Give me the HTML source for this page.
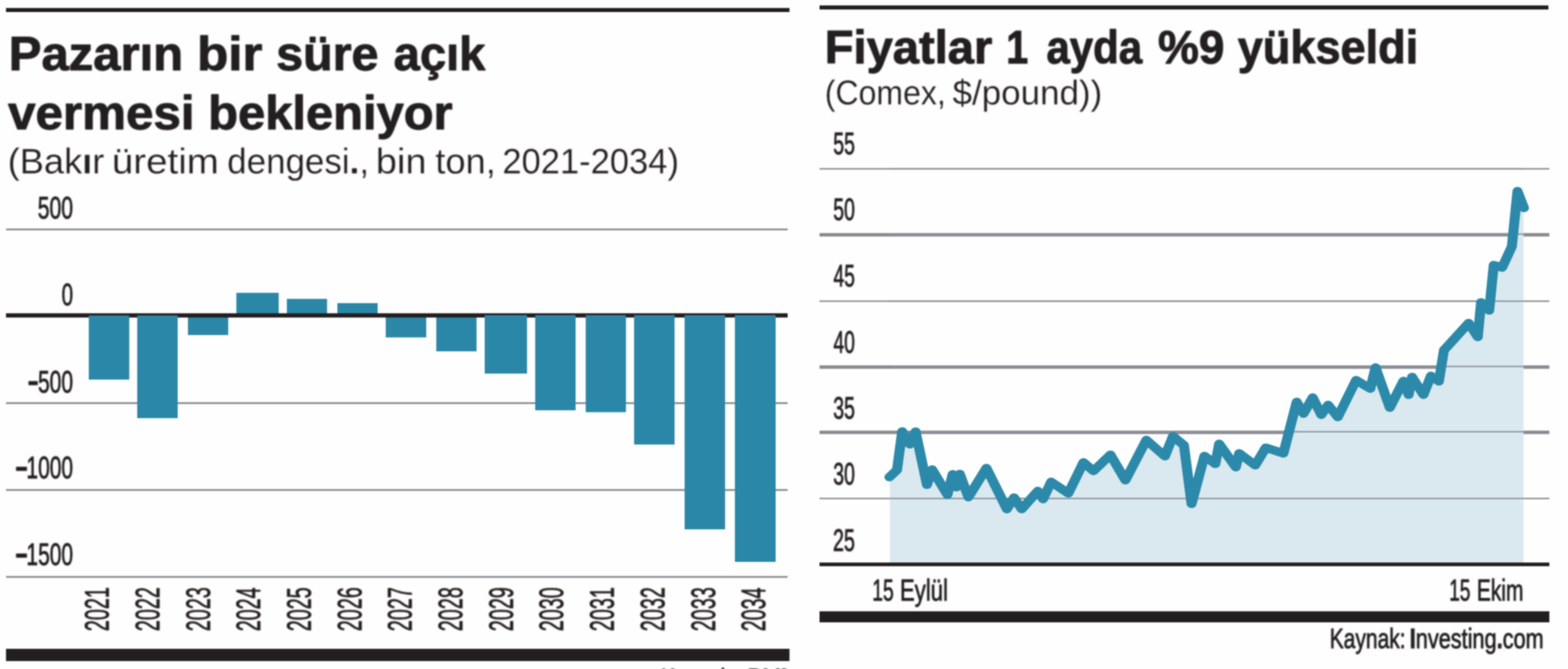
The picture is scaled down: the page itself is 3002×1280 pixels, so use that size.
<!DOCTYPE html>
<html lang="tr">
<head>
<meta charset="utf-8">
<title>Bakır grafikleri</title>
<style>
html,body{margin:0;padding:0;background:#fff;}
body{width:3002px;height:1280px;overflow:hidden;}
svg{display:block;}
text{font-family:"Liberation Sans",sans-serif;white-space:pre;}
</style>
</head>
<body>
<svg width="3002" height="1280" viewBox="0 0 3002 1280">
<defs>
<filter id="softs" x="0" y="0" width="3002" height="1280" filterUnits="userSpaceOnUse" color-interpolation-filters="sRGB"><feGaussianBlur stdDeviation="0.8"/></filter>
<filter id="softt" x="0" y="0" width="3002" height="1280" filterUnits="userSpaceOnUse" color-interpolation-filters="sRGB"><feGaussianBlur stdDeviation="1.4"/></filter>
</defs>
<rect x="0" y="0" width="3002" height="1280" fill="#fefefe"/>
<g filter="url(#softs)">
<rect x="11.50" y="15.30" width="1500.00" height="7.70" fill="#231f20"/>
<rect x="11.50" y="437.30" width="1496.50" height="3.40" fill="#8c8b91"/>
<rect x="11.50" y="769.60" width="1496.50" height="3.40" fill="#8c8b91"/>
<rect x="11.50" y="935.80" width="1496.50" height="3.40" fill="#8c8b91"/>
<rect x="11.50" y="1102.10" width="1496.50" height="3.40" fill="#8c8b91"/>
<rect x="170.00" y="604.00" width="77.50" height="122.30" fill="#2b87a8"/>
<rect x="262.70" y="604.00" width="77.50" height="196.00" fill="#2b87a8"/>
<rect x="359.80" y="604.00" width="77.10" height="37.00" fill="#2b87a8"/>
<rect x="452.50" y="560.30" width="81.10" height="43.70" fill="#2b87a8"/>
<rect x="549.20" y="571.80" width="77.00" height="32.20" fill="#2b87a8"/>
<rect x="645.90" y="580.00" width="77.10" height="24.00" fill="#2b87a8"/>
<rect x="738.50" y="604.00" width="77.50" height="41.60" fill="#2b87a8"/>
<rect x="835.30" y="604.00" width="77.10" height="68.20" fill="#2b87a8"/>
<rect x="928.00" y="604.00" width="81.00" height="110.80" fill="#2b87a8"/>
<rect x="1024.70" y="604.00" width="77.30" height="181.00" fill="#2b87a8"/>
<rect x="1121.40" y="604.00" width="77.00" height="184.60" fill="#2b87a8"/>
<rect x="1214.00" y="604.00" width="77.50" height="246.50" fill="#2b87a8"/>
<rect x="1310.70" y="604.00" width="77.50" height="408.80" fill="#2b87a8"/>
<rect x="1407.00" y="604.00" width="78.00" height="471.00" fill="#2b87a8"/>
<rect x="11.50" y="599.40" width="1496.50" height="8.10" fill="#231f20"/>
<rect x="170.00" y="603.60" width="77.50" height="5.40" fill="#2b87a8"/>
<rect x="262.70" y="603.60" width="77.50" height="5.40" fill="#2b87a8"/>
<rect x="928.00" y="603.00" width="81.00" height="6.00" fill="#2b87a8"/>
<rect x="1024.70" y="603.00" width="77.30" height="6.00" fill="#2b87a8"/>
<rect x="1121.40" y="603.00" width="77.00" height="6.00" fill="#2b87a8"/>
<rect x="1214.00" y="603.00" width="77.50" height="6.00" fill="#2b87a8"/>
<rect x="1310.70" y="603.00" width="77.50" height="6.00" fill="#2b87a8"/>
<rect x="1407.00" y="603.00" width="78.00" height="6.00" fill="#2b87a8"/>
<rect x="11.50" y="1241.40" width="1500.00" height="23.40" fill="#231f20"/>
<rect x="1569.00" y="10.40" width="1395.50" height="7.80" fill="#231f20"/>
<rect x="1569.00" y="321.60" width="1397.30" height="2.80" fill="#8c8b91"/>
<rect x="1569.00" y="445.90" width="1397.30" height="6.60" fill="#8c8b91"/>
<rect x="1569.00" y="574.80" width="1397.30" height="2.80" fill="#8c8b91"/>
<rect x="1569.00" y="699.00" width="1397.30" height="6.60" fill="#8c8b91"/>
<rect x="1569.00" y="823.90" width="1397.30" height="6.60" fill="#8c8b91"/>
<rect x="1569.00" y="952.40" width="1397.30" height="2.80" fill="#8c8b91"/>
<path d="M1703.8,1079.8 L1703.8,912.9 L1702.8,912.9 L1717.3,899.3 L1727.3,825.5 L1741.9,850.1 L1752.9,825.8 L1774.7,927.5 L1784.7,898.4 L1813.9,946.6 L1823.9,907.5 L1831.2,932.1 L1837.6,906.9 L1854.0,951.2 L1888.6,895.6 L1927.7,974.0 L1941.4,952.1 L1956.0,974.0 L1987.0,939.4 L1997.0,954.8 L2012.5,922.0 L2045.3,943.9 L2074.4,884.7 L2093.5,901.1 L2126.0,870.1 L2154.7,918.8 L2194.7,841.9 L2230.3,872.9 L2245.7,834.6 L2266.7,851.9 L2281.3,964.0 L2305.9,872.5 L2326.8,887.5 L2334.1,849.2 L2366.0,893.8 L2372.4,867.4 L2403.3,890.2 L2423.4,856.5 L2457.1,867.4 L2482.6,769.0 L2495.7,791.3 L2513.2,760.7 L2529.6,793.5 L2542.8,774.9 L2561.3,797.9 L2596.3,727.5 L2623.6,743.6 L2633.5,703.2 L2660.8,779.9 L2687.0,729.0 L2696.9,755.2 L2703.4,721.3 L2725.3,755.2 L2739.5,719.2 L2754.8,729.6 L2764.5,670.0 L2811.8,618.1 L2829.3,644.7 L2835.6,578.5 L2851.1,594.0 L2859.8,507.2 L2875.9,511.9 L2894.5,471.6 L2905.3,365.7 L2917.7,397.9 L2916.8,397.9 L2916.8,1079.8 Z" fill="#dae8ef"/>
<rect x="1703.8" y="321.70" width="1213.0" height="2.6" fill="#8a939b"/>
<rect x="1703.8" y="446.70" width="1213.0" height="2.6" fill="#8a939b"/>
<rect x="1703.8" y="574.90" width="1213.0" height="2.6" fill="#8a939b"/>
<rect x="1703.8" y="699.80" width="1213.0" height="2.6" fill="#8a939b"/>
<rect x="1703.8" y="824.70" width="1213.0" height="2.6" fill="#8a939b"/>
<rect x="1703.8" y="952.50" width="1213.0" height="2.6" fill="#8a939b"/>
<g transform="scale(1.18 1)"><polyline points="1443.05,912.9 1455.34,899.3 1463.81,825.5 1476.19,850.1 1485.51,825.8 1503.98,927.5 1512.46,898.4 1537.20,946.6 1545.68,907.5 1551.86,932.1 1557.29,906.9 1571.19,951.2 1600.51,895.6 1633.64,974.0 1645.25,952.1 1657.63,974.0 1683.90,939.4 1692.37,954.8 1705.51,922.0 1733.31,943.9 1757.97,884.7 1774.15,901.1 1801.69,870.1 1826.02,918.8 1859.92,841.9 1890.08,872.9 1903.14,834.6 1920.93,851.9 1933.31,964.0 1954.15,872.5 1971.86,887.5 1978.05,849.2 2005.08,893.8 2010.51,867.4 2036.69,890.2 2053.73,856.5 2082.29,867.4 2103.90,769.0 2115.00,791.3 2129.83,760.7 2143.73,793.5 2154.92,774.9 2170.59,797.9 2200.25,727.5 2223.39,743.6 2231.78,703.2 2254.92,779.9 2277.12,729.0 2285.51,755.2 2291.02,721.3 2309.58,755.2 2321.61,719.2 2334.58,729.6 2342.80,670.0 2382.88,618.1 2397.71,644.7 2403.05,578.5 2416.19,594.0 2423.56,507.2 2437.20,511.9 2452.97,471.6 2462.12,365.7 2472.63,397.9" fill="none" stroke="#2c89a9" stroke-width="16.2" stroke-linejoin="round" stroke-linecap="round"/></g>
<rect x="1569.00" y="1076.30" width="1397.30" height="7.00" fill="#231f20"/>
<rect x="1569.00" y="1169.60" width="1397.30" height="21.10" fill="#231f20"/>
</g>
<g filter="url(#softt)">
<text y="134.20" font-size="91.50" font-weight="bold" fill="#231f20" stroke="#231f20" stroke-width="1.8" stroke-linejoin="round"><tspan x="16.80" textLength="333.83" lengthAdjust="spacingAndGlyphs">Pazarın</tspan> <tspan x="377.34" textLength="125.01" lengthAdjust="spacingAndGlyphs">bir</tspan> <tspan x="528.76" textLength="195.84" lengthAdjust="spacingAndGlyphs">süre</tspan> <tspan x="753.80" textLength="175.32" lengthAdjust="spacingAndGlyphs">açık</tspan></text>
<text y="247.40" font-size="91.50" font-weight="bold" fill="#231f20" stroke="#231f20" stroke-width="1.8" stroke-linejoin="round"><tspan x="15.43" textLength="357.05" lengthAdjust="spacingAndGlyphs">vermesi</tspan> <tspan x="398.62" textLength="467.87" lengthAdjust="spacingAndGlyphs">bekleniyor</tspan></text>
<text y="332.10" font-size="68.00" font-weight="normal" fill="#231f20" stroke="#fefefe" stroke-width="0.3" stroke-linejoin="round"><tspan x="14.69" textLength="185.04" lengthAdjust="spacingAndGlyphs">(Bak<tspan font-weight="bold">ı</tspan>r</tspan> <tspan x="214.09" textLength="204.90" lengthAdjust="spacingAndGlyphs">üretim</tspan> <tspan x="435.08" textLength="271.40" lengthAdjust="spacingAndGlyphs">dengesi<tspan font-weight="bold">.</tspan>,</tspan> <tspan x="719.63" textLength="96.90" lengthAdjust="spacingAndGlyphs">bin</tspan> <tspan x="833.51" textLength="115.64" lengthAdjust="spacingAndGlyphs">ton,</tspan> <tspan x="961.64" textLength="338.29" lengthAdjust="spacingAndGlyphs">2021-2034)</tspan></text>
<text transform="matrix(0.6818 0 0 1 72.18 418.30)" font-size="59.50" font-weight="normal" fill="#231f20" stroke="#231f20" stroke-width="1.4" stroke-linejoin="round">500</text>
<text transform="matrix(0.6617 0 0 1 118.03 583.70)" font-size="59.50" font-weight="normal" fill="#231f20" stroke="#231f20" stroke-width="1.4" stroke-linejoin="round">0</text>
<text transform="matrix(1.1699 0 0 1.1111 51.69 749.73)" font-size="60.00" font-weight="bold" fill="#231f20">-</text>
<text transform="matrix(0.6765 0 0 1 72.69 751.00)" font-size="59.50" font-weight="normal" fill="#231f20" stroke="#231f20" stroke-width="1.4" stroke-linejoin="round">500</text>
<text transform="matrix(1.3725 0 0 1.1111 27.41 913.93)" font-size="60.00" font-weight="bold" fill="#231f20">-</text>
<text transform="matrix(0.6747 0 0 1 50.59 915.20)" font-size="59.50" font-weight="normal" fill="#231f20" stroke="#231f20" stroke-width="1.4" stroke-linejoin="round">1000</text>
<text transform="matrix(1.3725 0 0 1.1111 27.41 1079.53)" font-size="60.00" font-weight="bold" fill="#231f20">-</text>
<text transform="matrix(0.6747 0 0 1 50.59 1080.80)" font-size="59.50" font-weight="normal" fill="#231f20" stroke="#231f20" stroke-width="1.4" stroke-linejoin="round">1500</text>
<text transform="matrix(0 -0.5791 1 0 208.10 1207.70)" font-size="65.50" font-weight="normal" fill="#231f20" stroke="#231f20" stroke-width="1.4" stroke-linejoin="round">2021</text>
<text transform="matrix(0 -0.5791 1 0 304.80 1207.70)" font-size="65.50" font-weight="normal" fill="#231f20" stroke="#231f20" stroke-width="1.4" stroke-linejoin="round">2022</text>
<text transform="matrix(0 -0.5777 1 0 401.50 1207.69)" font-size="65.50" font-weight="normal" fill="#231f20" stroke="#231f20" stroke-width="1.4" stroke-linejoin="round">2023</text>
<text transform="matrix(0 -0.5737 1 0 498.20 1207.68)" font-size="65.50" font-weight="normal" fill="#231f20" stroke="#231f20" stroke-width="1.4" stroke-linejoin="round">2024</text>
<text transform="matrix(0 -0.5764 1 0 594.90 1207.69)" font-size="65.50" font-weight="normal" fill="#231f20" stroke="#231f20" stroke-width="1.4" stroke-linejoin="round">2025</text>
<text transform="matrix(0 -0.5777 1 0 691.60 1207.69)" font-size="65.50" font-weight="normal" fill="#231f20" stroke="#231f20" stroke-width="1.4" stroke-linejoin="round">2026</text>
<text transform="matrix(0 -0.5791 1 0 788.30 1207.70)" font-size="65.50" font-weight="normal" fill="#231f20" stroke="#231f20" stroke-width="1.4" stroke-linejoin="round">2027</text>
<text transform="matrix(0 -0.5777 1 0 885.00 1207.69)" font-size="65.50" font-weight="normal" fill="#231f20" stroke="#231f20" stroke-width="1.4" stroke-linejoin="round">2028</text>
<text transform="matrix(0 -0.5791 1 0 981.70 1207.70)" font-size="65.50" font-weight="normal" fill="#231f20" stroke="#231f20" stroke-width="1.4" stroke-linejoin="round">2029</text>
<text transform="matrix(0 -0.5764 1 0 1078.40 1207.69)" font-size="65.50" font-weight="normal" fill="#231f20" stroke="#231f20" stroke-width="1.4" stroke-linejoin="round">2030</text>
<text transform="matrix(0 -0.5791 1 0 1175.10 1207.70)" font-size="65.50" font-weight="normal" fill="#231f20" stroke="#231f20" stroke-width="1.4" stroke-linejoin="round">2031</text>
<text transform="matrix(0 -0.5791 1 0 1271.80 1207.70)" font-size="65.50" font-weight="normal" fill="#231f20" stroke="#231f20" stroke-width="1.4" stroke-linejoin="round">2032</text>
<text transform="matrix(0 -0.5777 1 0 1368.50 1207.69)" font-size="65.50" font-weight="normal" fill="#231f20" stroke="#231f20" stroke-width="1.4" stroke-linejoin="round">2033</text>
<text transform="matrix(0 -0.5737 1 0 1465.20 1207.68)" font-size="65.50" font-weight="normal" fill="#231f20" stroke="#231f20" stroke-width="1.4" stroke-linejoin="round">2034</text>
<text y="1316.80" font-size="53.50" font-weight="normal" fill="#231f20" stroke="#231f20" stroke-width="1.4" stroke-linejoin="round"><tspan x="1265.48" textLength="145.27" lengthAdjust="spacingAndGlyphs">Kaynak:</tspan> <tspan x="1430.98" textLength="76.10" lengthAdjust="spacingAndGlyphs">BM<tspan font-weight="bold">I</tspan></tspan></text>
<text y="120.90" font-size="89.00" font-weight="bold" fill="#231f20" stroke="#231f20" stroke-width="1.8" stroke-linejoin="round"><tspan x="1579.04" textLength="320.70" lengthAdjust="spacingAndGlyphs">Fiyatlar</tspan> <tspan x="1926.48" textLength="42.10" lengthAdjust="spacingAndGlyphs">1</tspan> <tspan x="2003.39" textLength="183.35" lengthAdjust="spacingAndGlyphs">ayda</tspan> <tspan x="2216.90" textLength="127.31" lengthAdjust="spacingAndGlyphs">%9</tspan> <tspan x="2369.74" textLength="345.58" lengthAdjust="spacingAndGlyphs">yükseldi</tspan></text>
<text y="199.60" font-size="66.00" font-weight="normal" fill="#231f20" stroke="#fefefe" stroke-width="0.3" stroke-linejoin="round"><tspan x="1578.97" textLength="231.90" lengthAdjust="spacingAndGlyphs">(Comex,</tspan> <tspan x="1823.68" textLength="286.54" lengthAdjust="spacingAndGlyphs">$/pound))</tspan></text>
<text transform="matrix(0.6352 0 0 1 1595.20 294.80)" font-size="59.00" font-weight="normal" fill="#231f20" stroke="#231f20" stroke-width="1.4" stroke-linejoin="round">55</text>
<text transform="matrix(0.6321 0 0 1 1595.21 421.40)" font-size="59.00" font-weight="normal" fill="#231f20" stroke="#231f20" stroke-width="1.4" stroke-linejoin="round">50</text>
<text transform="matrix(0.6261 0 0 1 1595.78 547.60)" font-size="59.00" font-weight="normal" fill="#231f20" stroke="#231f20" stroke-width="1.4" stroke-linejoin="round">45</text>
<text transform="matrix(0.6231 0 0 1 1595.78 674.70)" font-size="59.00" font-weight="normal" fill="#231f20" stroke="#231f20" stroke-width="1.4" stroke-linejoin="round">40</text>
<text transform="matrix(0.6352 0 0 1 1595.20 800.90)" font-size="59.00" font-weight="normal" fill="#231f20" stroke="#231f20" stroke-width="1.4" stroke-linejoin="round">35</text>
<text transform="matrix(0.6321 0 0 1 1595.21 927.10)" font-size="59.00" font-weight="normal" fill="#231f20" stroke="#231f20" stroke-width="1.4" stroke-linejoin="round">30</text>
<text transform="matrix(0.6414 0 0 1 1594.81 1054.20)" font-size="59.00" font-weight="normal" fill="#231f20" stroke="#231f20" stroke-width="1.4" stroke-linejoin="round">25</text>
<text y="1148.80" font-size="57.50" font-weight="normal" fill="#231f20" stroke="#231f20" stroke-width="1.4" stroke-linejoin="round"><tspan x="1669.93" textLength="41.14" lengthAdjust="spacingAndGlyphs">15</tspan> <tspan x="1723.01" textLength="91.85" lengthAdjust="spacingAndGlyphs">Eylül</tspan></text>
<text y="1148.80" font-size="57.50" font-weight="normal" fill="#231f20" stroke="#231f20" stroke-width="1.4" stroke-linejoin="round"><tspan x="2774.45" textLength="40.80" lengthAdjust="spacingAndGlyphs">15</tspan> <tspan x="2827.49" textLength="89.21" lengthAdjust="spacingAndGlyphs">Ekim</tspan></text>
<text y="1240.30" font-size="53.50" font-weight="normal" fill="#231f20" stroke="#231f20" stroke-width="1.4" stroke-linejoin="round"><tspan x="2545.78" textLength="145.27" lengthAdjust="spacingAndGlyphs">Kaynak:</tspan> <tspan x="2698.96" textLength="256.52" lengthAdjust="spacingAndGlyphs"><tspan font-weight="bold">I</tspan>nvesting<tspan font-weight="bold">.</tspan>com</tspan></text>
</g>
</svg>
</body>
</html>
